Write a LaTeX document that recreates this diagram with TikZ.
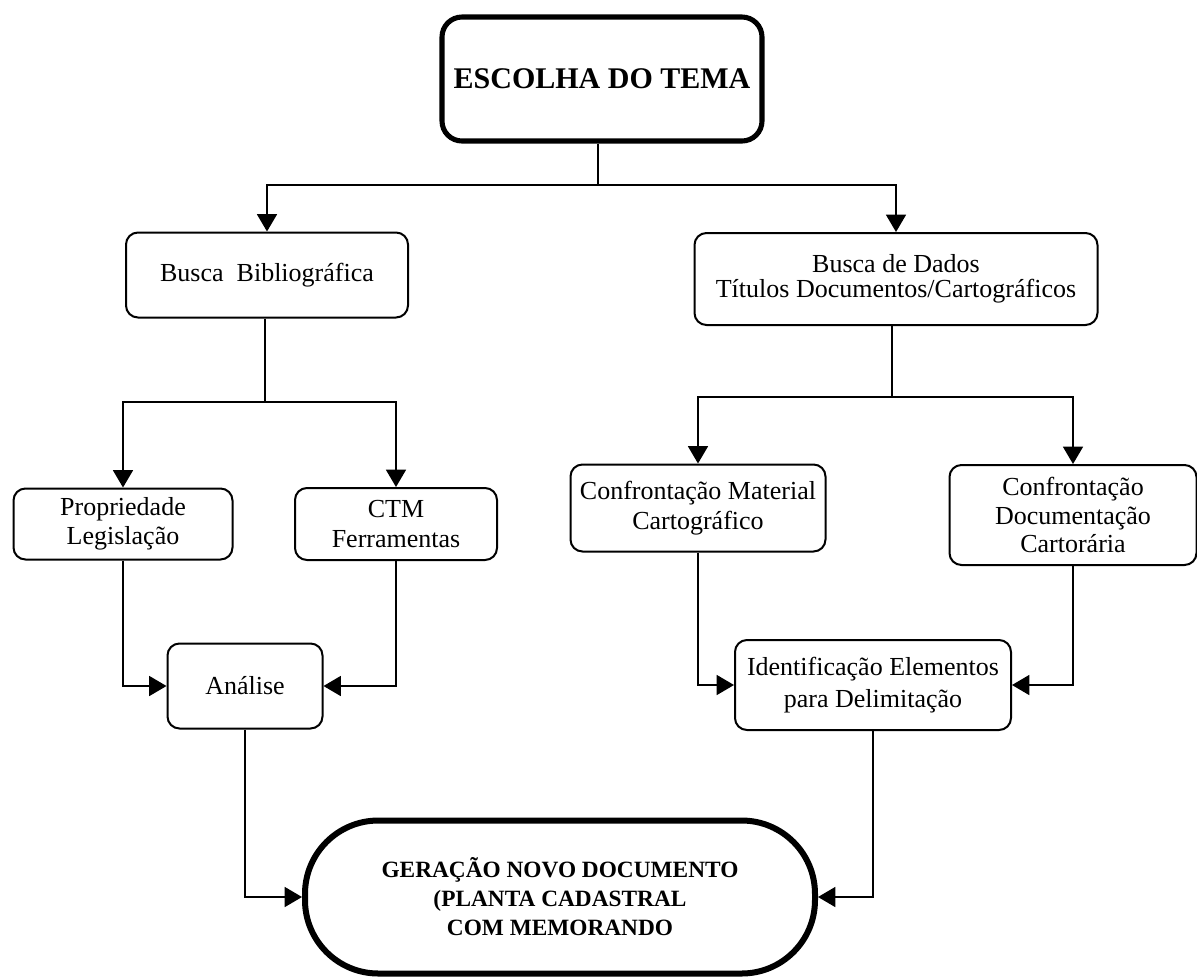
\documentclass[tikz,border=0pt]{standalone}
\usepackage{fontspec}
\setmainfont{Liberation Serif}
\usetikzlibrary{arrows.meta}
\begin{document}
\begin{tikzpicture}[x=0.75pt,y=-0.75pt,
  box/.style={draw, line width=1.5pt, rounded corners=9pt, align=center, inner sep=0pt,
    font=\fontsize{19.5}{22}\selectfont},
  bigbox/.style={draw, line width=3.8pt, rounded corners=15pt, align=center, inner sep=0pt,
    font=\fontsize{22.5}{26}\selectfont\bfseries},
  endbox/.style={draw, line width=4.5pt, rounded corners=55pt, align=center, inner sep=0pt,
    font=\fontsize{17.5}{21.75}\selectfont\bfseries},
  conn/.style={line width=1.1pt},
  arr/.style={conn, -{Triangle[length=13pt,width=15pt]}}]
\useasboundingbox (0,0) rectangle (1197,976);

\node[bigbox, minimum width=240pt, minimum height=93pt] (top) at (602,79) {ESCOLHA DO TEMA};

\node[box, minimum width=211.5pt, minimum height=63.75pt] (bib) at (267,275) {Busca\ \ Bibliográfica};
\node[box, minimum width=302.25pt, minimum height=69pt, font=\fontsize{19.5}{19}\selectfont] (dados) at (896,279)
  {Busca de Dados\\Títulos Documentos/Cartográficos};

\node[box, minimum width=164.25pt, minimum height=53.25pt] (prop) at (123,524) {Propriedade\\Legislação};
\node[box, minimum width=151.5pt, minimum height=54pt] (ctm) at (396,524) {CTM\\Ferramentas};

\node[box, minimum width=191.25pt, minimum height=65.25pt] (confmat) at (698,508) {Confrontação Material\\Cartográfico};
\node[box, minimum width=185.25pt, minimum height=75pt, font=\fontsize{19.5}{21.4}\selectfont] (confdoc) at (1073,515)
  {Confrontação\\Documentação\\Cartorária};

\node[box, minimum width=116.25pt, minimum height=63.75pt] (analise) at (245,686) {Análise};
\node[box, minimum width=207pt, minimum height=67.5pt, font=\fontsize{19.5}{24}\selectfont] (ident) at (873,685)
  {Identificação Elementos\\para Delimitação};

\node[endbox, minimum width=382.5pt, minimum height=114.75pt] (ger) at (560,897)
  {GERAÇÃO NOVO DOCUMENTO\\(PLANTA CADASTRAL\\COM MEMORANDO};

% connectors
\coordinate (j1) at (598,185);
\draw[conn] (top.south -| j1) -- (j1);
\draw[arr] (j1) -| (bib.north);
\draw[arr] (j1) -| (dados.north);

\coordinate (j2) at (265,402);
\draw[conn] (bib.south -| j2) -- (j2);
\draw[arr] (j2) -| (prop.north);
\draw[arr] (j2) -| (ctm.north);

\coordinate (j3) at (892,397);
\draw[conn] (dados.south -| j3) -- (j3);
\draw[arr] (j3) -| (confmat.north);
\draw[arr] (j3) -| (confdoc.north);

\draw[arr] (prop.south) |- (analise.west);
\draw[arr] (ctm.south) |- (analise.east);
\draw[arr] (confmat.south) |- (ident.west);
\draw[arr] (confdoc.south) |- (ident.east);

\draw[arr] (analise.south) |- (ger.west);
\draw[arr] (ident.south) |- (ger.east);
\end{tikzpicture}
\end{document}
